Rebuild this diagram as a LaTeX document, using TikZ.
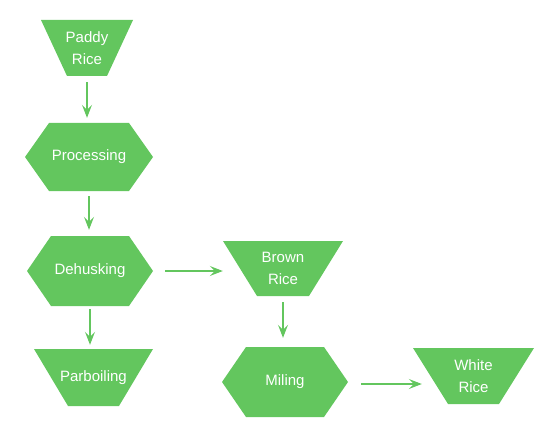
\documentclass[tikz,border=0pt]{standalone}
\usepackage{fontspec}
\setmainfont{Liberation Sans}
\usepackage{tikz}
\usetikzlibrary{arrows.meta}

\definecolor{riceGreen}{RGB}{99,198,94}

\begin{document}
\begin{tikzpicture}[x=1pt, y=1pt, >={Stealth[length=13pt, width=10pt, inset=5pt]},
  every node/.style={text=white, font=\fontsize{15}{22}\selectfont, align=center, inner sep=0pt},
  bin/.style={rectangle, path picture={
    \fill[riceGreen] (path picture bounding box.north west) -- (path picture bounding box.north east)
      -- ([xshift=-#1]path picture bounding box.south east)
      -- ([xshift=#1]path picture bounding box.south west) -- cycle;}},
  bin/.default=34pt,
  stage/.style={rectangle, path picture={
    \fill[riceGreen] (path picture bounding box.west)
      -- ([xshift=24pt]path picture bounding box.north west)
      -- ([xshift=-24pt]path picture bounding box.north east)
      -- (path picture bounding box.east)
      -- ([xshift=-24pt]path picture bounding box.south east)
      -- ([xshift=24pt]path picture bounding box.south west) -- cycle;}},
  flow/.style={->, draw=riceGreen, line width=1.2pt}]
\path[use as bounding box] (0,0) rectangle (546,-441);
% nodes
\node[bin=26pt, minimum width=92pt, minimum height=56pt] (paddy) at (87,-48) {Paddy\\Rice};
\node[stage, minimum width=128pt, minimum height=68pt] (proc) at (89,-157) {Processing};
\node[stage, minimum width=126pt, minimum height=70pt] (dehusk) at (90,-271) {Dehusking};
\node[bin, minimum width=119pt, minimum height=57pt] (parboil) at (93.5,-377.5) {Parboiling};
\node[bin, minimum width=120pt, minimum height=55pt] (brown) at (283,-268.5) {Brown\\Rice};
\node[stage, minimum width=126pt, minimum height=70pt] (miling) at (285,-382) {Miling};
\node[bin=35pt, minimum width=121pt, minimum height=56pt] (white) at (473.5,-376) {White\\Rice};
% connectors
\draw[flow, shorten <=6pt, shorten >=5pt] (paddy.south) -- (paddy.south |- proc.north);
\draw[flow, shorten <=5pt, shorten >=6pt] (proc.south) -- (proc.south |- dehusk.north);
\draw[flow, shorten <=3pt, shorten >=4pt] (dehusk.south) -- (dehusk.south |- parboil.north);
\draw[flow, shorten <=12pt] (dehusk.east) -- (dehusk.east -| brown.west);
\draw[flow, shorten <=6pt, shorten >=9pt] (brown.south) -- (brown.south |- miling.north);
\draw[flow, shorten <=13pt] ([yshift=-2pt]miling.east) -- ([xshift=9pt, yshift=-2pt]miling.east -| white.west);
\end{tikzpicture}
\end{document}
